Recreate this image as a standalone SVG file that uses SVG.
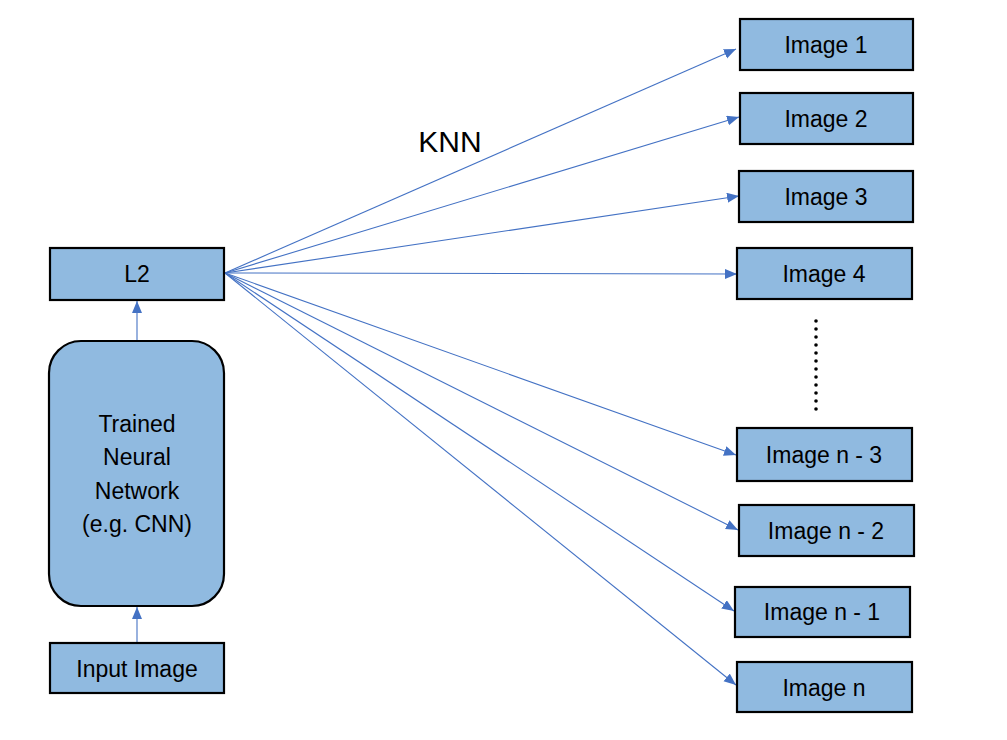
<svg xmlns="http://www.w3.org/2000/svg" width="1007" height="740" viewBox="0 0 1007 740">
<defs>
<style>
.box{fill:#90BAE0;stroke:#000;stroke-width:2.2}
.t{font-family:"Liberation Sans",Arial,sans-serif;font-size:23px;fill:#000;text-anchor:middle;dominant-baseline:central}
.c{stroke:#4472C4;stroke-width:1.1;fill:none;marker-end:url(#ah)}
</style>
<marker id="ah" markerUnits="userSpaceOnUse" markerWidth="13" markerHeight="11" refX="12" refY="5" orient="auto">
<path d="M0,0 L12,5 L0,10 z" fill="#4472C4"/>
</marker>
</defs>
<rect width="1007" height="740" fill="#fff"/>
<g id="connectors">
<line class="c" x1="137" y1="643" x2="137" y2="607"/>
<line class="c" x1="137" y1="341" x2="137" y2="301"/>
<line class="c" x1="225" y1="273" x2="736" y2="49"/>
<line class="c" x1="225" y1="273" x2="739" y2="117"/>
<line class="c" x1="225" y1="273" x2="739" y2="196"/>
<line class="c" x1="225" y1="273" x2="737" y2="274"/>
<line class="c" x1="225" y1="273" x2="736" y2="455"/>
<line class="c" x1="225" y1="273" x2="738" y2="530"/>
<line class="c" x1="225" y1="273" x2="734" y2="611"/>
<line class="c" x1="225" y1="273" x2="736" y2="685"/>
</g>
<g id="input">
<rect class="box" x="50" y="643" width="174" height="50"/>
<text class="t" x="137" y="669">Input Image</text>
</g>
<g id="cnn">
<rect class="box" x="49" y="341" width="175" height="265" rx="32" ry="32"/>
<text class="t" x="137" y="424">Trained</text>
<text class="t" x="137" y="457">Neural</text>
<text class="t" x="137" y="491">Network</text>
<text class="t" x="137" y="524">(e.g. CNN)</text>
</g>
<g id="l2">
<rect class="box" x="50" y="248" width="174" height="52"/>
<text class="t" x="137" y="274">L2</text>
</g>
<g id="knn">
<text x="450" y="141" font-family="'Liberation Sans',Arial,sans-serif" font-size="30" text-anchor="middle" dominant-baseline="central">KNN</text>
</g>
<g id="img1"><rect class="box" x="740" y="19" width="173" height="51"/><text class="t" x="826" y="45">Image 1</text></g>
<g id="img2"><rect class="box" x="740" y="93" width="173" height="51"/><text class="t" x="826" y="119">Image 2</text></g>
<g id="img3"><rect class="box" x="739" y="171" width="174" height="51"/><text class="t" x="826" y="197">Image 3</text></g>
<g id="img4"><rect class="box" x="737" y="248" width="175" height="51"/><text class="t" x="824" y="274">Image 4</text></g>
<g id="dots" fill="#000">
<circle cx="816" cy="321" r="1.8"/><circle cx="816" cy="329" r="1.8"/><circle cx="816" cy="337" r="1.8"/><circle cx="816" cy="345" r="1.8"/><circle cx="816" cy="353" r="1.8"/><circle cx="816" cy="361" r="1.8"/><circle cx="816" cy="369" r="1.8"/><circle cx="816" cy="377" r="1.8"/><circle cx="816" cy="385" r="1.8"/><circle cx="816" cy="393" r="1.8"/><circle cx="816" cy="401" r="1.8"/><circle cx="816" cy="409" r="1.8"/>
</g>
<g id="imgn3"><rect class="box" x="737" y="428" width="175" height="53"/><text class="t" x="824" y="455">Image n - 3</text></g>
<g id="imgn2"><rect class="box" x="739" y="505" width="175" height="51"/><text class="t" x="826" y="531">Image n - 2</text></g>
<g id="imgn1"><rect class="box" x="735" y="587" width="175" height="50"/><text class="t" x="822" y="612">Image n - 1</text></g>
<g id="imgn"><rect class="box" x="737" y="662" width="175" height="50"/><text class="t" x="824" y="688">Image n</text></g>
</svg>
